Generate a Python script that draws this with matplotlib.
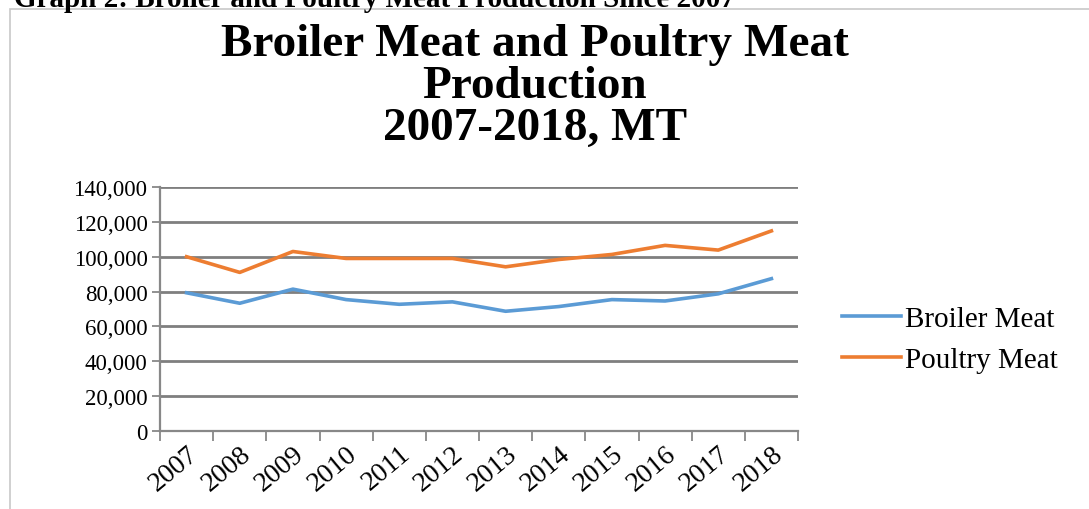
import numpy as np
from matplotlib import pyplot as plt
from matplotlib.patches import Rectangle

# Datos
anios = ['2007', '2008', '2009', '2010', '2011', '2012',
         '2013', '2014', '2015', '2016', '2017', '2018']
broiler = [79300, 73300, 81400, 75400, 72700, 74100,
           68700, 71400, 75400, 74600, 78700, 87400]
poultry = [100000, 91000, 103000, 99000, 99000, 99000,
           94200, 98400, 101300, 106500, 103800, 114800]
yticks = [0, 20000, 40000, 60000, 80000, 100000, 120000, 140000]

plt.rcParams['font.family'] = ['Liberation Serif', 'DejaVu Serif']

fig = plt.figure(figsize=(10.89, 5.10), dpi=100)

# Marco gris alrededor del grafico
fig.patches.append(Rectangle((10 / 1089, -0.05), 1.1, 1 - 10 / 510 + 0.05,
                             transform=fig.transFigure, fill=False,
                             edgecolor='#c8c8c8', linewidth=1.2))

# Texto superior (recortado en la imagen original)
fig.text(14 / 1089, 1 - 7 / 510, 'Graph 2: Broiler and Poultry Meat Production Since 2007',
         fontsize=21, fontweight='bold', va='baseline', ha='left')

fig.text(0.491, 1 - 87 / 510, 'Broiler Meat and Poultry Meat\nProduction\n2007-2018, MT',
         fontsize=34, fontweight='bold', ha='center', va='center',
         linespacing=1.0)

ax = fig.add_axes([160 / 1089, 1 - 432 / 510, (798 - 160) / 1089, (432 - 188) / 510])

x = np.arange(len(anios))
ax.plot(x, broiler, color='#5B9BD5', linewidth=2.6, label='Broiler Meat')
ax.plot(x, poultry, color='#ED7D31', linewidth=2.6, label='Poultry Meat')

ax.set_xlim(-0.5, len(anios) - 0.5)
ax.set_ylim(0, 140000)
ax.set_yticks(yticks)
ax.set_yticklabels([f'{v:,}' for v in yticks], fontsize=16.5)
ax.set_xticks(x)
ax.set_xticklabels(anios, fontsize=20, rotation=40, ha='right',
                   rotation_mode='anchor')
ax.set_xticks(np.arange(-0.5, len(anios)), minor=True)
ax.tick_params(axis='x', which='major', length=0, pad=7)
ax.tick_params(axis='x', which='minor', length=7, width=1.3, color='#888888')
ax.tick_params(axis='y', length=6, width=1.3, color='#888888', pad=3)

ax.grid(axis='y', color='#7f7f7f', linewidth=2.0)
ax.set_axisbelow(True)
for s in ['top', 'right']:
    ax.spines[s].set_visible(False)
for s in ['left', 'bottom']:
    ax.spines[s].set_color('#888888')
    ax.spines[s].set_linewidth(1.6)

fig.legend(loc='center left', bbox_to_anchor=(816 / 1089, 1 - 340 / 510),
           frameon=False, fontsize=21, handlelength=2.0, handletextpad=0.15,
           labelspacing=0.5)

plt.savefig('out.png', dpi=100)
